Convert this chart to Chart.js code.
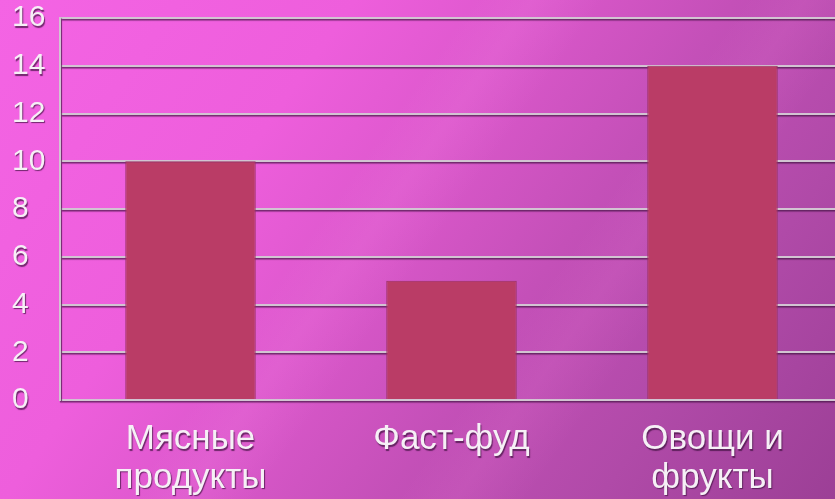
<!DOCTYPE html>
<html lang="ru">
<head>
<meta charset="utf-8">
<script src="https://cdn.jsdelivr.net/npm/chart.js@4.4.1/dist/chart.umd.min.js"></script>
<style>
    html, body {
        margin: 0;
        padding: 0;
        width: 835px;
        height: 499px;
        overflow: hidden;
    }
    #fundo {
        position: relative;
        width: 835px;
        height: 499px;
        overflow: hidden;
        background:
            linear-gradient(125deg, rgba(255,255,255,0) 0%, rgba(255,255,255,0) 40%, rgba(255,150,240,0.12) 45%, rgba(255,255,255,0) 51%, rgba(255,255,255,0) 63%, rgba(255,140,230,0.10) 68%, rgba(255,255,255,0) 74%),
            linear-gradient(125deg, #f464e4 0%, #ee5edc 30%, #dc58cc 45%, #c450b8 62%, #b04aa8 80%, #9c3f96 100%);
    }
    #graficoDieta {
        position: absolute;
        left: 0;
        top: 0;
    }
</style>
</head>
<body>
<div id="fundo">
    <canvas id="graficoDieta" width="845" height="499"></canvas>
</div>
<script>
// Dados do gráfico
const categorias = [['Мясные', 'продукты'], 'Фаст-фуд', ['Овощи и', 'фрукты']];
const valores = [10, 5, 14];
const marcasY = [0, 2, 4, 6, 8, 10, 12, 14, 16];

const corBarra = '#ba3c66';
const corBordaBarra = '#9a3262';
const corGrade = '#d2c4d2';

// sombra nos textos e linhas da grade, desligada antes das barras
const sombraEixos = {
    id: 'sombraEixos',
    beforeDraw(chart) {
        const ctx = chart.ctx;
        ctx.save();
        ctx.shadowColor = 'rgba(70, 20, 70, 0.75)';
        ctx.shadowOffsetX = 1;
        ctx.shadowOffsetY = 1.5;
        ctx.shadowBlur = 1;
    },
    beforeDatasetsDraw(chart) {
        chart.ctx.restore();
    }
};

const ctx = document.getElementById('graficoDieta').getContext('2d');
const grafico = new Chart(ctx, {
    type: 'bar',
    data: {
        labels: categorias,
        datasets: [{
            data: valores,
            backgroundColor: corBarra,
            borderColor: corBordaBarra,
            borderWidth: 1,
            barPercentage: 0.5,
            categoryPercentage: 1
        }]
    },
    options: {
        responsive: false,
        animation: false,
        devicePixelRatio: 1,
        layout: { padding: { left: 12, right: 2, top: 3, bottom: 0 } },
        plugins: {
            legend: { display: false },
            tooltip: { enabled: false }
        },
        scales: {
            x: {
                afterFit(escala) { escala.height = 99; },
                grid: { display: false },
                border: { display: false },
                ticks: {
                    color: '#f6f0f6',
                    padding: 12,
                    maxRotation: 0,
                    autoSkip: false,
                    font: { family: 'Liberation Sans', size: 35, lineHeight: 1.11 }
                }
            },
            y: {
                min: 0,
                max: 16,
                afterFit(escala) { escala.width = 48; },
                afterBuildTicks(escala) {
                    escala.ticks = marcasY.map(v => ({ value: v }));
                },
                grid: {
                    color: corGrade,
                    lineWidth: 2,
                    drawTicks: false
                },
                border: { display: true, color: corGrade, width: 2 },
                ticks: {
                    color: '#f6f0f6',
                    crossAlign: 'far',
                    autoSkip: false,
                    font: { family: 'Liberation Sans', size: 30, lineHeight: 1 }
                }
            }
        }
    },
    plugins: [sombraEixos]
});
</script>
</body>
</html>
